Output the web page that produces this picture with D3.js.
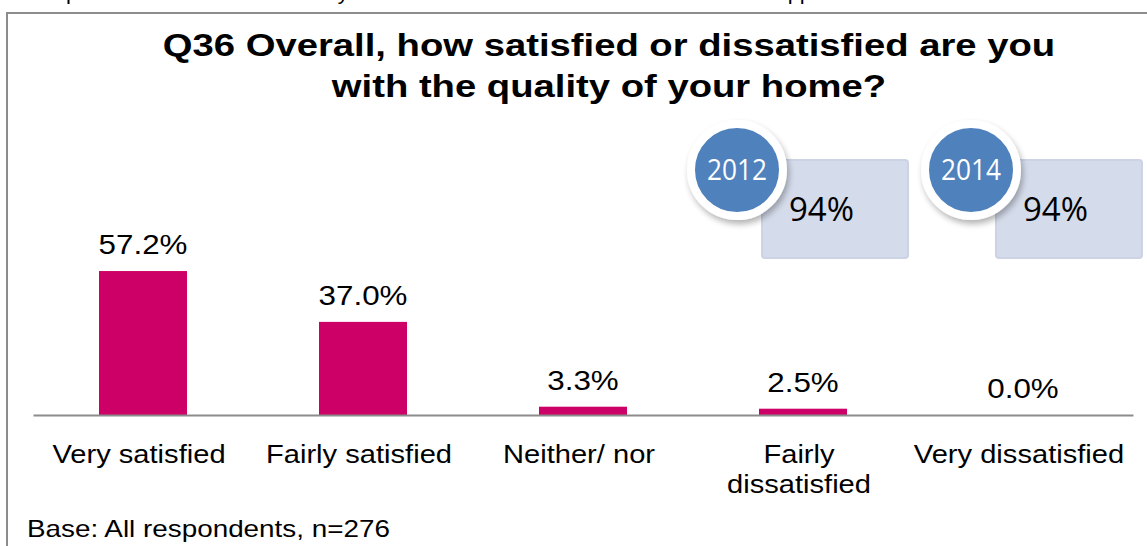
<!DOCTYPE html>
<html><head><meta charset="utf-8">
<script src="https://cdn.jsdelivr.net/npm/d3@7"></script>
<style>html,body{margin:0;padding:0;background:#fff;overflow:hidden;} svg{display:block;}</style>
</head><body>
<svg id="chart" width="1147" height="546"></svg>
<script>
// Survey responses, Q36 – satisfaction with the quality of the home
const categories = ["Very satisfied", "Fairly satisfied", "Neither/ nor", "Fairly\ndissatisfied", "Very dissatisfied"];
const values = [57.2, 37.0, 3.3, 2.5, 0.0];
const valueLabels = ["57.2%", "37.0%", "3.3%", "2.5%", "0.0%"];
const badgeYears = ["2012", "2014"];
const badgeScores = ["94%", "94%"];
const titleLines = ["Q36 Overall, how satisfied or dissatisfied are you", "with the quality of your home?"];
const baseNote = "Base: All respondents, n=276";
const headerLine = "Respondents continue to be very satisfied with their home and this remains supported";

const W = 1147, H = 546;
const svg = d3.select("#chart");
const sans = "'Liberation Sans', Arial, sans-serif";
const stretch = 1.12;

const defs = svg.append("defs");
const shadow = defs.append("filter").attr("id", "drop").attr("x", "-30%").attr("y", "-30%").attr("width", "160%").attr("height", "160%");
shadow.append("feGaussianBlur").attr("in", "SourceAlpha").attr("stdDeviation", 3);
shadow.append("feOffset").attr("dx", 2).attr("dy", 4).attr("result", "ob");
shadow.append("feComponentTransfer").append("feFuncA").attr("type", "linear").attr("slope", 0.3);
const merge = shadow.append("feMerge");
merge.append("feMergeNode");
merge.append("feMergeNode").attr("in", "SourceGraphic");

// line of text above the panel, running off the top edge
svg.append("text")
  .attr("x", 27).attr("y", -1.5)
  .attr("font-family", sans).attr("font-size", 22).attr("fill", "#000")
  .text(headerLine);

// panel frame (left and top edges)
svg.append("path")
  .attr("d", `M7,${H} L7,13 L${W},13`)
  .attr("fill", "none").attr("stroke", "#8c8c8c").attr("stroke-width", 2);

// title
const title = svg.append("g").attr("transform", "translate(609,0)");
title.selectAll("text").data(titleLines).join("text")
  .attr("transform", (d, i) => `translate(0,${56 + i * 41}) scale(1.195,1)`)
  .attr("text-anchor", "middle")
  .attr("font-family", sans).attr("font-weight", "bold").attr("font-size", 32)
  .attr("fill", "#000")
  .text(d => d);

// scales
const x = d3.scaleBand().domain(d3.range(categories.length)).range([33, 1133])
  .paddingInner(0.6).paddingOuter(0.3);
const y = d3.scaleLinear().domain([0, 60]).range([415, 264]);

// bars
svg.append("g").selectAll("rect").data(values).join("rect")
  .attr("x", (d, i) => x(i))
  .attr("y", d => y(d))
  .attr("width", x.bandwidth())
  .attr("height", d => y(0) - y(d))
  .attr("fill", "#cc0066");

// value labels
svg.append("g").selectAll("text").data(values).join("text")
  .attr("transform", (d, i) => `translate(${x(i) + x.bandwidth() / 2},${y(d) - 17}) scale(${stretch},1)`)
  .attr("text-anchor", "middle")
  .attr("font-family", sans).attr("font-size", 28).attr("fill", "#000")
  .text((d, i) => valueLabels[i]);

// category axis
const axis = svg.append("g").attr("transform", `translate(0,${y(0)})`)
  .call(d3.axisBottom(x).tickSize(0).tickSizeOuter(0).tickFormat(i => categories[i]));
axis.select(".domain").attr("stroke", "#8c8c8c").attr("stroke-width", 2);
axis.selectAll(".tick text").each(function(i) {
  const t = d3.select(this);
  const lines = categories[i].split("\n");
  t.text(null)
    .attr("y", 0).attr("dy", null)
    .attr("transform", `translate(-4,0) scale(${stretch},1)`)
    .attr("font-family", sans).attr("font-size", 26).attr("fill", "#000");
  lines.forEach((line, k) => {
    t.append("tspan").attr("x", 0).attr("y", 48 + k * 30).text(line);
  });
});

// year badges
const badgeX = [762, 996];
const badge = svg.append("g").selectAll("g").data(badgeYears).join("g")
  .attr("transform", (d, i) => `translate(${badgeX[i]},160)`);
badge.append("rect")
  .attr("width", 146).attr("height", 98).attr("rx", 3)
  .attr("fill", "#d4dbea").attr("stroke", "#cbd3e5").attr("stroke-width", 2);
badge.append("text")
  .attr("x", 27).attr("y", 61)
  .attr("font-family", "'Open Sans', sans-serif").attr("font-size", 33).attr("fill", "#000")
  .text((d, i) => badgeScores[i]);
badge.append("circle")
  .attr("cx", -25).attr("cy", 10).attr("r", 46)
  .attr("fill", "#4f81bd").attr("stroke", "#fff").attr("stroke-width", 8)
  .attr("filter", "url(#drop)");
badge.append("text")
  .attr("x", -25).attr("y", 20)
  .attr("text-anchor", "middle")
  .attr("font-family", "'Open Sans', sans-serif").attr("font-size", 29).attr("fill", "#fff")
  .attr("textLength", 60).attr("lengthAdjust", "spacingAndGlyphs")
  .text(d => d);

// base note
svg.append("text")
  .attr("transform", `translate(27,537) scale(1.16,1)`)
  .attr("font-family", sans).attr("font-size", 24).attr("fill", "#000")
  .text(baseNote);
</script>
</body></html>
